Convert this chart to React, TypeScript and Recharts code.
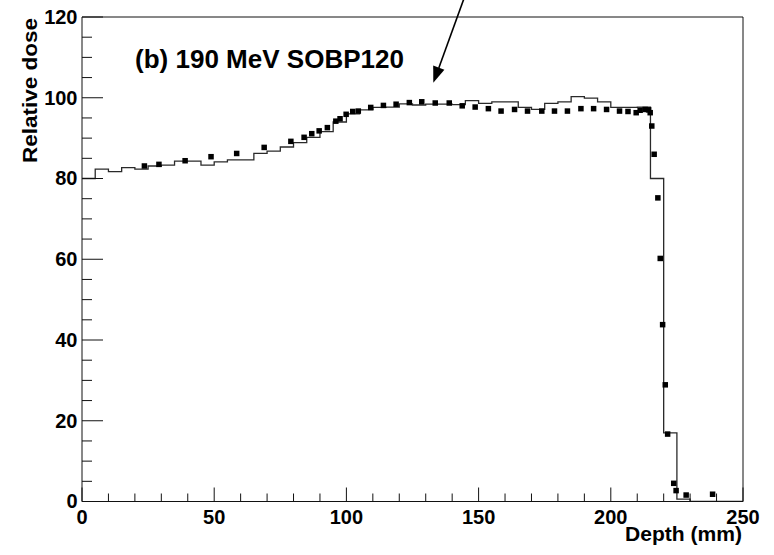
import React from "react";
import {
  ComposedChart,
  Line,
  Scatter,
  XAxis,
  YAxis,
  ReferenceLine,
} from "recharts";

// Histogram (simulation): bin start depth (mm) and relative dose
const histDepth = [
  0, 5, 10, 15, 20, 25, 30, 35, 40, 45, 50, 55, 60, 65, 70, 75, 80, 85, 90, 95,
  100, 105, 110, 115, 120, 125, 130, 135, 140, 145, 150, 155, 160, 165, 170,
  175, 180, 185, 190, 195, 200, 205, 210, 215, 220, 225, 230, 250,
];
const histDose = [
  80.0, 82.3, 81.7, 82.7, 82.3, 83.1, 83.3, 84.3, 84.3, 83.3, 84.1, 84.6, 84.6,
  86.2, 86.8, 87.8, 88.9, 90.2, 91.6, 94.0, 96.0, 97.0, 97.6, 97.7, 98.5, 98.2,
  98.4, 98.4, 98.3, 99.3, 98.6, 99.0, 99.0, 97.6, 97.1, 98.6, 99.0, 100.3, 99.9,
  99.0, 97.6, 97.6, 97.7, 80.0, 17.0, 0.6, 0, 0,
];

// Measured points
const pointDepth = [
  23.6, 29.1, 39.0, 48.8, 58.5, 68.9, 79.0, 84.0, 86.9, 89.7, 92.8, 96.0, 97.6,
  99.9, 102.4, 104.5, 109.2, 114.0, 118.8, 123.8, 128.5, 133.6, 138.9, 143.8,
  148.7, 153.7, 158.5, 163.6, 168.5, 173.9, 178.7, 183.6, 188.7, 193.5, 198.4,
  203.3, 206.5, 209.6, 211.1, 213.0, 214.3, 214.9, 215.5, 216.4, 217.8, 218.7,
  219.6, 220.6, 221.5, 223.8, 224.7, 228.5, 238.5,
];
const pointDose = [
  83.1, 83.5, 84.4, 85.4, 86.2, 87.7, 89.2, 90.2, 91.1, 91.8, 92.6, 94.2, 94.8,
  95.9, 96.6, 96.7, 97.6, 98.1, 98.4, 98.8, 99.0, 98.7, 98.7, 98.0, 97.7, 97.3,
  96.7, 97.1, 96.7, 96.7, 96.7, 96.7, 97.3, 97.3, 97.1, 96.7, 96.6, 96.3, 96.9,
  97.1, 97.0, 96.3, 93.0, 86.0, 75.2, 60.2, 43.8, 28.9, 16.7, 4.5, 2.7, 1.6,
  1.8,
];

// Axis ticks
const xTicks = [
  0, 10, 20, 30, 40, 50, 60, 70, 80, 90, 100, 110, 120, 130, 140, 150, 160, 170,
  180, 190, 200, 210, 220, 230, 240, 250,
];
const xLabels = [0, 50, 100, 150, 200, 250];
const yTicks = [
  0, 5, 10, 15, 20, 25, 30, 35, 40, 45, 50, 55, 60, 65, 70, 75, 80, 85, 90, 95,
  100, 105, 110, 115, 120,
];
const yLabels = [0, 20, 40, 60, 80, 100, 120];

const titleText = "(b) 190 MeV SOBP120";
const xTitle = "Depth (mm)";
const yTitle = "Relative dose";

const FONT = "'Liberation Sans', Arial, Helvetica, sans-serif";
const AXIS_COLOR = "#111";

const histData = histDepth.map((x, i) => ({ x, y: histDose[i] }));
const pointData = pointDepth.map((x, i) => ({ x, y: pointDose[i] }));

const XTick = (props: any) => {
  const { x, y, payload } = props;
  const v = payload.value;
  const major = xLabels.includes(v);
  return (
    <g>
      <line
        x1={x}
        x2={x}
        y1={y}
        y2={y - (major ? 14 : 8)}
        stroke={AXIS_COLOR}
        strokeWidth={1}
      />
      {major && (
        <text
          x={x}
          y={y + 22.5}
          textAnchor="middle"
          fontSize={20}
          fontWeight="bold"
          fontFamily={FONT}
          fill="#000"
        >
          {v}
        </text>
      )}
    </g>
  );
};

const YTick = (props: any) => {
  const { x, y, payload } = props;
  const v = payload.value;
  const major = yLabels.includes(v);
  return (
    <g>
      <line
        x1={x}
        x2={x + (major ? 21 : 10)}
        y1={y}
        y2={y}
        stroke={AXIS_COLOR}
        strokeWidth={1}
      />
      {major && (
        <text
          x={x - 4.5}
          y={y + 6.8}
          textAnchor="end"
          fontSize={20}
          fontWeight="bold"
          fontFamily={FONT}
          fill="#000"
        >
          {v}
        </text>
      )}
    </g>
  );
};

const SquareDot = (props: any) => {
  const { cx, cy } = props;
  if (cx == null || cy == null) return null;
  const s = 5.5;
  return <rect x={cx - s / 2} y={cy - s / 2} width={s} height={s} fill="#000" />;
};

export default function App() {
  return (
    <div
      style={{
        position: "absolute",
        left: 0,
        top: 0,
        width: 774,
        height: 555,
        background: "#fff",
      }}
    >
      <ComposedChart
        width={774}
        height={555}
        margin={{ top: 17, right: 31, bottom: 23.5, left: 0 }}
      >
        <XAxis
          type="number"
          dataKey="x"
          domain={[0, 250]}
          ticks={xTicks}
          interval={0}
          allowDataOverflow
          height={30}
          tickSize={0}
          tickMargin={0}
          tickLine={false}
          axisLine={{ stroke: AXIS_COLOR, strokeWidth: 1 }}
          tick={<XTick />}
        />
        <YAxis
          type="number"
          dataKey="y"
          domain={[0, 120]}
          ticks={yTicks}
          interval={0}
          allowDataOverflow
          width={82}
          tickSize={0}
          tickMargin={0}
          tickLine={false}
          axisLine={{ stroke: AXIS_COLOR, strokeWidth: 1 }}
          tick={<YTick />}
        />
        <ReferenceLine y={120} stroke={AXIS_COLOR} strokeWidth={1} />
        <ReferenceLine x={250} stroke={AXIS_COLOR} strokeWidth={1} />
        <Line
          data={histData}
          dataKey="y"
          type="stepAfter"
          stroke="#2a2a2a"
          strokeWidth={1.3}
          dot={false}
          activeDot={false}
          isAnimationActive={false}
        />
        <Scatter
          data={pointData}
          dataKey="y"
          fill="#000"
          shape={<SquareDot />}
          isAnimationActive={false}
        />
      </ComposedChart>
      <svg
        width={774}
        height={555}
        style={{ position: "absolute", left: 0, top: 0, pointerEvents: "none" }}
      >
        <text
          x={135}
          y={68}
          fontSize={26}
          fontWeight="bold"
          fontFamily={FONT}
          fill="#000"
          textLength={269}
          lengthAdjust="spacingAndGlyphs"
        >
          {titleText}
        </text>
        <text
          x={742}
          y={541}
          textAnchor="end"
          fontSize={20}
          fontWeight="bold"
          fontFamily={FONT}
          fill="#000"
          textLength={117}
          lengthAdjust="spacingAndGlyphs"
        >
          {xTitle}
        </text>
        <text
          x={36.5}
          y={18}
          textAnchor="end"
          transform="rotate(-90, 36.5, 18)"
          fontSize={21}
          fontWeight="bold"
          fontFamily={FONT}
          fill="#000"
          textLength={145}
          lengthAdjust="spacingAndGlyphs"
        >
          {yTitle}
        </text>
        <line
          x1={463.8}
          y1={-1}
          x2={438.8}
          y2={68}
          stroke="#000"
          strokeWidth={1.6}
        />
        <polygon points="433.3,82.7 444.4,69.7 433.2,65.6" fill="#000" />
      </svg>
    </div>
  );
}
